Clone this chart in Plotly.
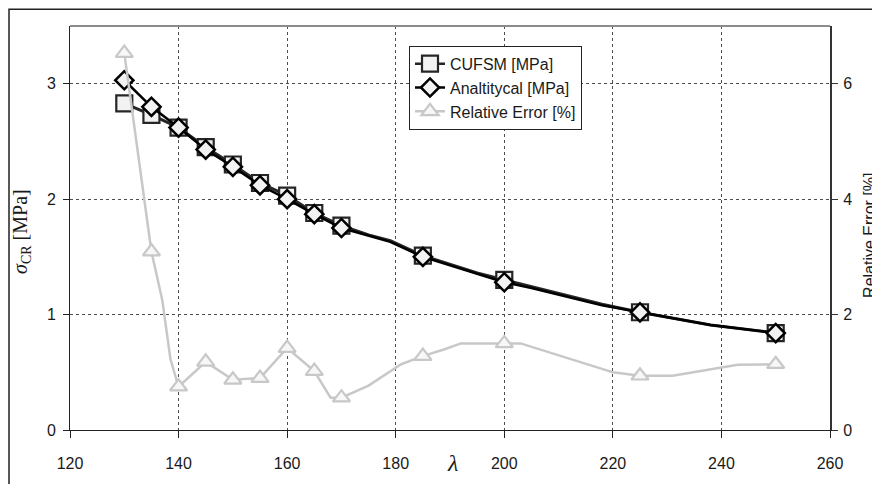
import plotly.graph_objects as go

# Marker points (lambda values with markers)
lam = [130, 135, 140, 145, 150, 155, 160, 165, 170, 185, 200, 225, 250]
cufsm = [2.83, 2.73, 2.62, 2.45, 2.30, 2.14, 2.03, 1.88, 1.77, 1.51, 1.30, 1.02, 0.84]
analytical = [3.03, 2.80, 2.62, 2.43, 2.28, 2.12, 2.00, 1.87, 1.75, 1.50, 1.28, 1.02, 0.84]
rel_error = [6.53, 3.09, 0.75, 1.18, 0.87, 0.90, 1.42, 1.02, 0.56, 1.28, 1.50, 0.94, 1.14]

# Line paths (include unmarked points)
lam_line = [130, 135, 140, 145, 150, 155, 160, 165, 170, 175, 179, 185, 195, 200, 205, 218, 225, 238, 250]
cufsm_line = [2.83, 2.73, 2.62, 2.45, 2.30, 2.14, 2.03, 1.88, 1.77, 1.69, 1.64, 1.51, 1.36, 1.30, 1.24, 1.09, 1.02, 0.91, 0.84]
analytical_line = [3.03, 2.80, 2.62, 2.43, 2.28, 2.12, 2.00, 1.87, 1.75, 1.68, 1.63, 1.50, 1.35, 1.28, 1.23, 1.08, 1.02, 0.91, 0.84]

lam_err_line = [130, 135, 137, 138.5, 139.3, 140, 145, 150, 155, 160, 165, 168, 170, 175, 181, 185, 189, 192, 200, 203, 218, 220, 225, 231, 243, 250]
err_line = [6.53, 3.09, 2.25, 1.23, 0.97, 0.75, 1.18, 0.87, 0.90, 1.42, 1.02, 0.56, 0.56, 0.77, 1.14, 1.28, 1.40, 1.50, 1.50, 1.50, 1.06, 1.00, 0.94, 0.94, 1.13, 1.14]

x_ticks = [120, 140, 160, 180, 200, 220, 240, 260]

names = ["CUFSM [MPa]", "Analtitycal [MPa]", "Relative Error [%]"]

GRAY = "#c8c8c8"
FONT = "Liberation Sans, Arial, sans-serif"
SERIF = "Liberation Serif, Times New Roman, serif"

sq_marker = dict(symbol="square", size=16, color="#f2f2f2", line=dict(color="#262626", width=2.2))
di_marker = dict(symbol="diamond", size=14, color="#f2f2f2", line=dict(color="#000000", width=2.5))
tr_marker = dict(symbol="triangle-up", size=15, color="#f7f7f7", line=dict(color=GRAY, width=2.2))

fig = go.Figure()

# CUFSM
fig.add_trace(go.Scatter(x=lam_line, y=cufsm_line, mode="lines", line=dict(color="#262626", width=3),
                         showlegend=False, hoverinfo="skip"))
fig.add_trace(go.Scatter(x=lam, y=cufsm, mode="markers", marker=sq_marker, showlegend=False))
# Analytical
fig.add_trace(go.Scatter(x=lam_line, y=analytical_line, mode="lines", line=dict(color="#000000", width=2.5),
                         showlegend=False, hoverinfo="skip"))
fig.add_trace(go.Scatter(x=lam, y=analytical, mode="markers", marker=di_marker, showlegend=False))
# Relative error on secondary axis
fig.add_trace(go.Scatter(x=lam_err_line, y=err_line, mode="lines", line=dict(color=GRAY, width=2.5),
                         showlegend=False, hoverinfo="skip", yaxis="y2"))
fig.add_trace(go.Scatter(x=lam, y=rel_error, mode="markers", marker=tr_marker, showlegend=False, yaxis="y2"))

# Legend entries
fig.add_trace(go.Scatter(x=[None], y=[None], mode="lines+markers", name=names[0],
                         line=dict(color="#262626", width=2.5), marker=sq_marker))
fig.add_trace(go.Scatter(x=[None], y=[None], mode="lines+markers", name=names[1],
                         line=dict(color="#000000", width=2.5), marker=di_marker))
fig.add_trace(go.Scatter(x=[None], y=[None], mode="lines+markers", name=names[2],
                         line=dict(color=GRAY, width=2.5), marker=tr_marker, yaxis="y2"))

# page has an 8px body margin: figure is shifted by OFF pixels
OFF = 8
W, H = 880 - OFF, 484 - OFF
L, T = 70 - OFF, 26 - OFF
R = W - (830 - OFF)
B = H - (434 - OFF)
pw, ph = W - L - R, H - T - B

def px_x(p):
    return (p - OFF - L) / pw

def px_y(p):
    return (H - B - (p - OFF)) / ph

grid = dict(showgrid=True, gridcolor="#4d4d4d", griddash="dot", gridwidth=1)

fig.update_layout(
    width=W, height=H,
    margin=dict(l=L, r=R, t=T, b=B),
    paper_bgcolor="white", plot_bgcolor="white",
    font=dict(family=FONT, size=16, color="#1a1a1a"),
    showlegend=True,
    legend=dict(x=px_x(409), y=px_y(46), xanchor="left", yanchor="top",
                bgcolor="white", bordercolor="#222", borderwidth=1,
                font=dict(family=FONT, size=16, color="#1a1a1a"),
                tracegroupgap=0, itemwidth=30),
    xaxis=dict(range=[120, 260], tickvals=x_ticks, ticktext=[str(v) for v in x_ticks],
               showline=True, linecolor="#222", linewidth=1, ticks="outside", ticklen=7,
               tickcolor="#222", zeroline=False, ticklabelstandoff=12, **grid),
    yaxis=dict(range=[0, 3.5], tickvals=[0, 1, 2, 3], showline=True, linecolor="#222", linewidth=1,
               ticks="outside", ticklen=6, tickcolor="#222", zeroline=False, ticklabelstandoff=4, **grid),
    yaxis2=dict(range=[0, 7], tickvals=[0, 2, 4, 6], overlaying="y", side="right", showgrid=False,
                showline=True, linecolor="#333", linewidth=2, ticks="outside", ticklen=6,
                tickcolor="#333", zeroline=False, ticklabelstandoff=2),
    shapes=[
        dict(type="line", xref="paper", yref="paper", x0=0, x1=1, y0=1, y1=1,
             line=dict(color="#8c8c8c", width=2)),
        dict(type="rect", xref="paper", yref="paper", x0=px_x(9), x1=px_x(900),
             y0=px_y(520), y1=px_y(9), line=dict(color="#222", width=1.5), layer="below"),
    ],
    annotations=[
        dict(text="<i>λ</i>", xref="paper", yref="paper", x=px_x(453), y=px_y(467),
             showarrow=False, font=dict(family=SERIF, size=24, color="#1a1a1a"),
             xanchor="center", yanchor="middle"),
        dict(text="<i>σ</i><sub>CR</sub> [MPa]", xref="paper", yref="paper", x=px_x(22), y=px_y(234),
             showarrow=False, textangle=-90, font=dict(family=SERIF, size=20, color="#1a1a1a"),
             xanchor="center", yanchor="middle"),
        dict(text="Relative Error [%]", xref="paper", yref="paper", x=px_x(870), y=px_y(238),
             showarrow=False, textangle=-90, font=dict(family=FONT, size=16, color="#1a1a1a"),
             xanchor="center", yanchor="middle"),
    ],
)

fig.write_html("out.html")
